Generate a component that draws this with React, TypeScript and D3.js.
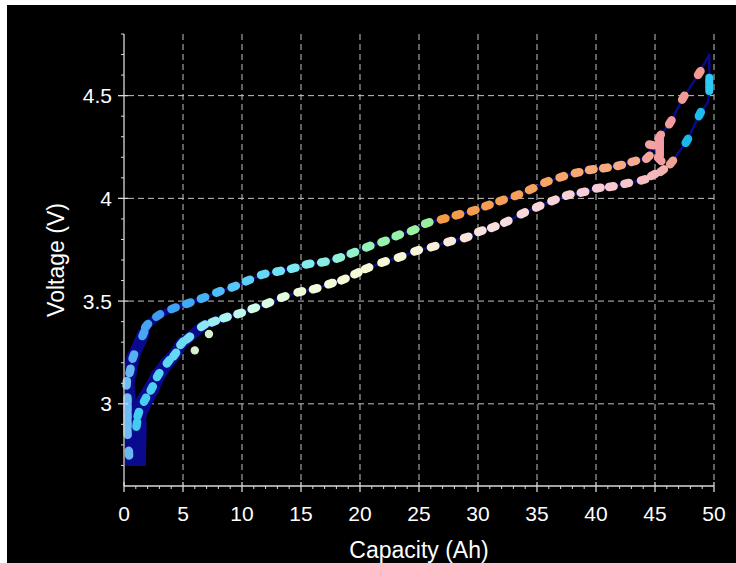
import React from 'react';
import * as d3 from 'd3';

// ---------- data ----------
const xTicks = [0, 5, 10, 15, 20, 25, 30, 35, 40, 45, 50];
const yTicks = [3, 3.5, 4, 4.5];
const xTickLabels = ['0', '5', '10', '15', '20', '25', '30', '35', '40', '45', '50'];
const yTickLabels = ['3', '3.5', '4', '4.5'];

const chargeCap = [0.42, 0.3, 0.3, 0.3, 0.3, 0.3, 0.23, 0.51, 0.79, 1.64, 1.92, 2.9, 4.2, 5.45, 6.7, 8.0, 9.3, 10.5, 11.8, 13.1, 14.35, 15.6, 16.9, 18.2, 19.4, 20.7, 22.0, 23.2, 24.5, 25.7, 27.05, 28.3, 29.6, 30.8, 32.0, 33.3, 34.5, 35.8, 37.1, 38.4, 39.6, 40.8, 42.0, 43.2, 44.4, 44.7, 45.4, 45.4, 45.4, 45.4, 45.4, 46.3, 47.4, 48.75];
const chargeV = [2.76, 2.86, 2.9, 2.94, 2.98, 3.02, 3.1, 3.16, 3.23, 3.34, 3.38, 3.43, 3.465, 3.49, 3.515, 3.545, 3.57, 3.6, 3.63, 3.645, 3.66, 3.68, 3.69, 3.71, 3.735, 3.765, 3.79, 3.82, 3.845, 3.88, 3.9, 3.92, 3.94, 3.965, 3.99, 4.015, 4.045, 4.08, 4.105, 4.125, 4.14, 4.148, 4.16, 4.18, 4.2, 4.26, 4.19, 4.22, 4.25, 4.28, 4.3, 4.37, 4.49, 4.61];

const restCap = [49.6, 49.6, 49.6];
const restV = [4.58, 4.555, 4.53];

const dischargeCap = [48.8, 47.7, 46.4, 45.6, 44.85, 44.0, 42.6, 41.3, 40.2, 38.9, 37.65, 36.4, 35.1, 33.8, 32.4, 31.3, 30.2, 29.0, 27.6, 26.2, 24.8, 23.4, 22.0, 20.6, 19.7, 18.6, 17.5, 16.2, 14.9, 13.5, 12.2, 11.0, 9.8, 8.6, 7.6, 6.7, 5.45, 4.9, 4.3, 3.75, 2.9, 2.35, 1.78, 1.21, 1.08];
const dischargeV = [4.41, 4.28, 4.175, 4.135, 4.114, 4.09, 4.073, 4.057, 4.05, 4.03, 4.016, 3.99, 3.96, 3.927, 3.886, 3.86, 3.84, 3.81, 3.79, 3.765, 3.745, 3.715, 3.69, 3.66, 3.635, 3.605, 3.585, 3.56, 3.545, 3.52, 3.49, 3.465, 3.44, 3.42, 3.4, 3.38, 3.32, 3.295, 3.24, 3.205, 3.14, 3.075, 3.02, 2.95, 2.9];

const strayCap = [6.0, 7.2];
const strayV = [3.26, 3.34];

// line-only vertices (no marker)
const startCap = [0.3];
const startV = [2.7];
const peakCap = [49.6];
const peakV = [4.7];
const kneeCap = [49.5];
const kneeV = [4.47];
const endCap = [1.0];
const endV = [2.7];

// ---------- styles ----------
const W = 736;
const H = 563;
const NAVY = '#0a0a8e';
const AXIS = '#d8d8d8';
const GRID = '#c4c4c4';
const FONT = 'Liberation Sans, Arial, sans-serif';

const chargeColor = d3
  .scaleLinear<string>()
  .domain([0, 1, 3, 6, 10, 14, 18, 22, 26.3, 26.5, 33, 40, 44, 45.5, 49])
  .range(['#7cc4f4', '#4eaaf0', '#3e9cf0', '#42acf6', '#58ccf8', '#78e8f4', '#8ef2d8', '#98f2b0', '#98ee98', '#f49a48', '#f6a058', '#f8aa78', '#f6aa98', '#f49ca4', '#f09a90'])
  .clamp(true);

const dischargeColor = d3
  .scaleLinear<string>()
  .domain([0, 2, 5, 8, 11, 15, 20, 25, 28, 32, 38, 43, 45.5, 46.5, 47.5, 50])
  .range(['#3cc8f2', '#48d0f2', '#6cdcf2', '#a0f2f2', '#d0fcec', '#eefcd8', '#f8fad8', '#f8f4d8', '#fae8dc', '#f8dcdc', '#f8d0d8', '#f6c4cc', '#f4b4b4', '#f0a090', '#18b8ec', '#20c0f0'])
  .clamp(true);

const bandWidth = d3.scaleLinear().domain([2.7, 3.0, 3.3, 3.5]).range([20, 16, 11, 4]).clamp(true);

type P = { c: number; v: number };
const zip = (c: number[], v: number[]): P[] => c.map((cc, i) => ({ c: cc, v: v[i] }));

export default function App() {
  const x = d3.scaleLinear().domain([0, 50]).range([124, 714]);
  const y = d3.scaleLinear().domain([2.6, 4.8]).range([486, 34]);

  const charge = zip(chargeCap, chargeV);
  const rest = zip(restCap, restV);
  const discharge = zip(dischargeCap, dischargeV);
  const stray = zip(strayCap, strayV);
  const start = zip(startCap, startV);
  const peak = zip(peakCap, peakV);
  const knee = zip(kneeCap, kneeV);
  const end = zip(endCap, endV);

  const loop: P[] = [...start, ...charge, ...peak, ...rest, ...knee, ...discharge, ...end];
  const line = d3
    .line<P>()
    .x((d) => x(d.c))
    .y((d) => y(d.v));

  // thick band segments in the low-voltage start region
  const bandSegs: { a: P; b: P; w: number }[] = [];
  for (let i = 0; i < loop.length - 1; i++) {
    const a = loop[i];
    const b = loop[i + 1];
    if (a.c < 9 && b.c < 9 && (a.v < 3.5 || b.v < 3.5)) {
      bandSegs.push({ a, b, w: bandWidth(Math.min(a.v, b.v)) });
    }
  }
  // bottom closing segment
  bandSegs.push({ a: end[0], b: start[0], w: 20 });

  const capsules = (pts: P[], color: (p: P) => string, key: string, half = 2.3, sw = 8.5) =>
    pts.map((p, i) => {
      const prev = pts[Math.max(0, i - 1)];
      const next = pts[Math.min(pts.length - 1, i + 1)];
      let dx = x(next.c) - x(prev.c);
      let dy = y(next.v) - y(prev.v);
      const len = Math.hypot(dx, dy) || 1;
      dx /= len;
      dy /= len;
      const cx = x(p.c);
      const cy = y(p.v);
      return (
        <line
          key={key + i}
          x1={cx - dx * half}
          y1={cy - dy * half}
          x2={cx + dx * half}
          y2={cy + dy * half}
          stroke={color(p)}
          strokeWidth={sw}
          strokeLinecap="round"
        />
      );
    });

  const x0 = x(0);
  const x1 = x(50);
  const yTop = y(4.8);
  const yBot = y(2.6);
  const minorX = d3.range(0, 51, 1).filter((v) => v % 5 !== 0);
  const minorY = d3.range(27, 49, 1).map((v) => v / 10).filter((v) => Math.round(v * 10) % 5 !== 0);

  return (
    <svg width={W} height={H} style={{ position: 'absolute', left: 0, top: 0, display: 'block' }}>
      <rect x={0} y={0} width={W} height={H} fill="#ffffff" />
      <rect x={7} y={5} width={W - 7} height={H - 5} fill="#000000" />
      <defs>
        <clipPath id="bandClip">
          <rect x={x0 + 1} y={yTop} width={x1 - x0} height={y(2.7) - yTop + 0.5} />
        </clipPath>
      </defs>

      {/* grid */}
      {xTicks.filter((t) => t > 0).map((t) => (
        <line key={'gx' + t} x1={x(t)} x2={x(t)} y1={yTop} y2={yBot - 4} stroke={GRID} strokeWidth={1} strokeDasharray="6,4" />
      ))}
      {yTicks.map((t) => (
        <line key={'gy' + t} x1={x0 + 4} x2={x1} y1={y(t)} y2={y(t)} stroke={GRID} strokeWidth={1} strokeDasharray="6,4" />
      ))}

      {/* navy band + line */}
      <g clipPath="url(#bandClip)">
        {bandSegs.map((s, i) => (
          <line key={'b' + i} x1={x(s.a.c)} y1={y(s.a.v)} x2={x(s.b.c)} y2={y(s.b.v)} stroke={NAVY} strokeWidth={s.w} strokeLinecap="round" />
        ))}
      </g>
      <path d={line(loop) || ''} fill="none" stroke={NAVY} strokeWidth={2.4} strokeLinejoin="round" clipPath="url(#bandClip)" />

      {/* markers */}
      {capsules(discharge, (p) => dischargeColor(p.c), 'd')}
      {capsules(charge, (p) => chargeColor(p.c), 'c')}
      {capsules(rest, () => '#2ec8f4', 'r', 1.5, 8)}
      {stray.map((p, i) => (
        <circle key={'s' + i} cx={x(p.c)} cy={y(p.v)} r={4.2} fill="#d4f2d0" />
      ))}

      {/* axes */}
      <line x1={x0} x2={x0} y1={yTop} y2={yBot} stroke={AXIS} strokeWidth={1.3} />
      <line x1={x0} x2={x1} y1={yBot} y2={yBot} stroke={AXIS} strokeWidth={1.3} />
      {yTicks.map((t) => (
        <line key={'ty' + t} x1={x0 - 6} x2={x0 + 4} y1={y(t)} y2={y(t)} stroke={AXIS} strokeWidth={1.3} />
      ))}
      {minorY.map((t) => (
        <line key={'my' + t} x1={x0 - 3} x2={x0} y1={y(t)} y2={y(t)} stroke={AXIS} strokeWidth={1} />
      ))}
      {xTicks.map((t) => (
        <line key={'tx' + t} x1={x(t)} x2={x(t)} y1={yBot - 4} y2={yBot + 6} stroke={AXIS} strokeWidth={1.3} />
      ))}
      {minorX.map((t) => (
        <line key={'mx' + t} x1={x(t)} x2={x(t)} y1={yBot} y2={yBot + 3} stroke={AXIS} strokeWidth={1} />
      ))}

      {/* tick labels */}
      {yTicks.map((t, i) => (
        <text key={'ly' + t} x={x0 - 12} y={y(t) + 7.5} fill="#ffffff" fontFamily={FONT} fontSize={21} textAnchor="end">
          {yTickLabels[i]}
        </text>
      ))}
      {xTicks.map((t, i) => (
        <text key={'lx' + t} x={x(t)} y={yBot + 35} fill="#ffffff" fontFamily={FONT} fontSize={21} textAnchor="middle">
          {xTickLabels[i]}
        </text>
      ))}

      {/* titles */}
      <text x={(x0 + x1) / 2} y={558} fill="#ffffff" fontFamily={FONT} fontSize={23} textAnchor="middle">
        Capacity (Ah)
      </text>
      <text
        transform={`translate(64, ${(yTop + yBot) / 2}) rotate(-90)`}
        fill="#ffffff"
        fontFamily={FONT}
        fontSize={23}
        textAnchor="middle"
      >
        Voltage (V)
      </text>
    </svg>
  );
}
